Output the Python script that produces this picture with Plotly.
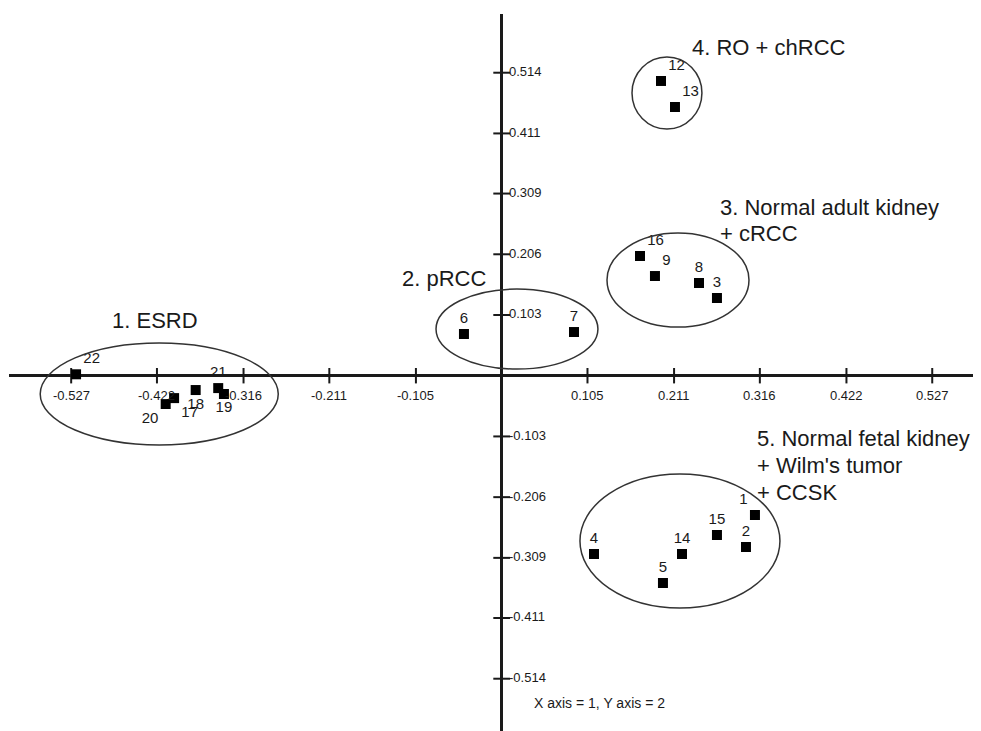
import plotly.graph_objects as go

# ---- data ----
sample_ids = ["1", "2", "3", "4", "5", "6", "7", "8", "9", "12", "13", "14", "15", "16", "17", "18", "19", "20", "21", "22"]
x_vals = [0.310, 0.299, 0.2635, 0.113, 0.1974, -0.0462, 0.0885, 0.2415, 0.1876, 0.195, 0.2121, 0.2207, 0.2635, 0.1693, -0.401, -0.3746, -0.340, -0.4113, -0.347, -0.521]
y_vals = [-0.2363, -0.2906, 0.1318, -0.3024, -0.3516, 0.0708, 0.0741, 0.1573, 0.1691, 0.500, 0.4558, -0.3024, -0.2702, 0.2031, -0.038, -0.0243, -0.031, -0.048, -0.021, 0.0024]
label_pos = ["top left", "top center", "top center", "top center", "top center", "top center", "top center", "top center", "top right", "top right", "top right", "top center", "top center", "top right", "bottom right", "bottom center", "bottom center", "bottom left", "top center", "top right"]

x_tick_vals = [-0.527, -0.422, -0.316, -0.211, -0.105, 0.105, 0.211, 0.316, 0.422, 0.527]
x_tick_text = ["-0.527", "-0.422", "-0.316", "-0.211", "-0.105", "0.105", "0.211", "0.316", "0.422", "0.527"]
y_tick_vals = [0.514, 0.411, 0.309, 0.206, 0.103, -0.103, -0.206, -0.309, -0.411, -0.514]
y_tick_text = ["0.514", "0.411", "0.309", "0.206", "0.103", "-0.103", "-0.206", "-0.309", "-0.411", "-0.514"]

# cluster ellipses: centre x, centre y, half-width, half-height
cluster_cx = [-0.4192, 0.0187, 0.2158, 0.2023, 0.2182]
cluster_cy = [-0.0310, 0.0792, 0.1623, 0.4795, -0.2803]
cluster_rx = [0.1457, 0.0991, 0.0869, 0.0428, 0.1224]
cluster_ry = [0.0865, 0.0679, 0.0797, 0.0611, 0.1137]

# cluster caption lines: text, x (left), y (middle)
caption_text = ["1. ESRD", "2. pRCC", "3. Normal adult kidney", "+ cRCC", "4. RO + chRCC",
                "5. Normal fetal kidney", "+ Wilm's tumor", "+ CCSK"]
caption_x = [-0.4794, -0.1245, 0.2648, 0.2648, 0.2304, 0.3100, 0.3100, 0.3100]
caption_y = [0.0945, 0.1641, 0.2858, 0.2421, 0.5576, -0.1073, -0.1531, -0.1989]

FONT = "Liberation Sans, Arial, sans-serif"
INK = "#1a1a1a"

fig = go.Figure()

# tick marks crossing the axes
fig.add_trace(go.Scatter(x=x_tick_vals, y=[0] * len(x_tick_vals), mode="markers",
                         marker=dict(symbol="line-ns", size=11, line=dict(width=2, color=INK)),
                         hoverinfo="skip", showlegend=False))
fig.add_trace(go.Scatter(x=[0] * len(y_tick_vals), y=y_tick_vals, mode="markers",
                         marker=dict(symbol="line-ew", size=12, line=dict(width=2, color=INK)),
                         hoverinfo="skip", showlegend=False))

# sample points
fig.add_trace(go.Scatter(x=x_vals, y=y_vals, mode="markers+text", text=sample_ids,
                         textposition=label_pos,
                         textfont=dict(family=FONT, size=15, color=INK),
                         marker=dict(symbol="square", size=10, color="black"),
                         showlegend=False))

shapes = []
for cx, cy, rx, ry in zip(cluster_cx, cluster_cy, cluster_rx, cluster_ry):
    shapes.append(dict(type="circle", xref="x", yref="y", x0=cx - rx, x1=cx + rx,
                       y0=cy - ry, y1=cy + ry, line=dict(color="#333333", width=1.5),
                       layer="above"))

annotations = []
for v, t in zip(x_tick_vals, x_tick_text):
    annotations.append(dict(x=v, y=0, text=t, showarrow=False, xanchor="center", yanchor="middle",
                            yshift=-20, font=dict(family=FONT, size=13, color=INK)))
for v, t in zip(y_tick_vals, y_tick_text):
    annotations.append(dict(x=0, y=v, text=t, showarrow=False, xanchor="left", yanchor="middle",
                            xshift=5, yshift=1, font=dict(family=FONT, size=13, color=INK)))
for t, cx, cy in zip(caption_text, caption_x, caption_y):
    annotations.append(dict(x=cx, y=cy, text=t, showarrow=False, xanchor="left", yanchor="middle",
                            font=dict(family=FONT, size=22, color=INK)))
annotations.append(dict(x=0.0371, y=-0.5552, text="X axis = 1, Y axis = 2", showarrow=False,
                        xanchor="left", yanchor="middle", font=dict(family=FONT, size=14, color=INK)))

# the page body has an 8px default margin; size the figure so the plot area
# spans from x=9..981 and y=14..731 of the window
fig.update_layout(
    width=973, height=723,
    margin=dict(l=1, r=0, t=6, b=0),
    paper_bgcolor="white", plot_bgcolor="white",
    shapes=shapes, annotations=annotations,
    xaxis=dict(range=[-0.6031, 0.5867], showgrid=False, showticklabels=False, ticks="",
               zeroline=True, zerolinecolor=INK, zerolinewidth=2.5, fixedrange=True),
    yaxis=dict(range=[-0.6027, 0.6136], showgrid=False, showticklabels=False, ticks="",
               zeroline=True, zerolinecolor=INK, zerolinewidth=2.5, fixedrange=True),
    showlegend=False,
)

fig.write_html("out.html")
